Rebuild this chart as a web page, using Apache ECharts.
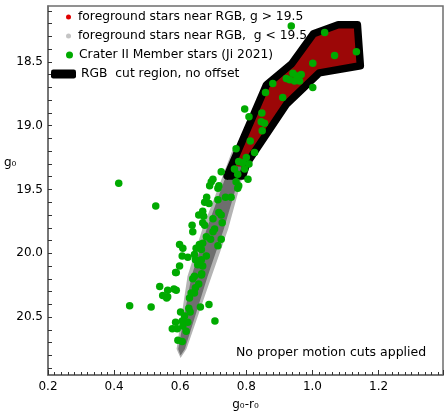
<!DOCTYPE html>
<html>
<head>
<meta charset="utf-8">
<script src="https://cdn.jsdelivr.net/npm/echarts@6/dist/echarts.min.js"></script>
<style>
  html, body { margin: 0; padding: 0; background: #fff; }
  #chart { width: 446px; height: 416px; }
</style>
</head>
<body>
<div id="chart"></div>
<script>
// Crater II CMD, g0 vs g0-r0

const xTickLabels = [0.2, 0.4, 0.6, 0.8, 1.0, 1.2];
const yTickLabels = [18.5, 19.0, 19.5, 20.0, 20.5];
const yTicks = [18.1, 18.2, 18.3, 18.4, 18.5, 18.6, 18.7, 18.8, 18.9, 19.0, 19.1, 19.2, 19.3, 19.4, 19.5,
  19.6, 19.7, 19.8, 19.9, 20.0, 20.1, 20.2, 20.3, 20.4, 20.5, 20.6, 20.7, 20.8, 20.9];

// RGB cut region outline (closed)
const cutRegion = [[0.742, 19.395], [0.789, 19.395], [0.801, 19.297], [0.922, 18.83], [1.021, 18.586],
  [1.145, 18.531], [1.136, 18.21], [1.078, 18.21], [1.003, 18.28], [0.937, 18.516], [0.861, 18.68], [0.742, 19.395]];

// area covered by the red (g > 19.5) foreground stars
const redStarsArea = [[0.754, 19.32], [0.798, 19.32], [0.801, 19.297], [0.922, 18.83], [1.021, 18.586],
  [1.145, 18.531], [1.136, 18.21], [1.078, 18.21], [1.003, 18.28], [0.937, 18.516], [0.861, 18.68]];

// area covered by the grey (g < 19.5) foreground stars: outer envelope and denser core
const grayStarsOuter = [[0.601, 20.82], [0.589, 20.75], [0.622, 20.18], [0.667, 19.81], [0.722, 19.44],
  [0.758, 19.19], [0.825, 19.19], [0.784, 19.44], [0.745, 19.81], [0.695, 20.18], [0.619, 20.75]];
const grayStarsCore = [[0.601, 20.80], [0.594, 20.75], [0.634, 20.18], [0.680, 19.81], [0.732, 19.44],
  [0.770, 19.19], [0.813, 19.19], [0.774, 19.44], [0.732, 19.81], [0.683, 20.18], [0.614, 20.75]];

// Crater II members (Ji 2021): [g0-r0, g0]
const memberStars = [
  [0.414, 19.45], [0.526, 19.63], [0.447, 20.41], [0.512, 20.42], [0.538, 20.26], [0.547, 20.33],
  [0.562, 20.34], [0.562, 20.29], [0.581, 20.28], [0.588, 20.29], [0.559, 20.35], [0.586, 20.15],
  [0.687, 20.40], [0.661, 20.42], [0.705, 20.53], [0.601, 20.46], [0.626, 20.43], [0.630, 20.46],
  [0.613, 20.49], [0.586, 20.54], [0.606, 20.53], [0.623, 20.54], [0.576, 20.59], [0.591, 20.59],
  [0.608, 20.57], [0.618, 20.61], [0.593, 20.68], [0.606, 20.69], [0.638, 20.20], [0.643, 20.18],
  [0.665, 20.16], [0.656, 20.24], [0.646, 20.27], [0.633, 20.31], [0.628, 20.35], [0.643, 20.31],
  [0.598, 20.10], [0.588, 20.15], [0.664, 20.17], [0.653, 20.09], [0.668, 20.10], [0.658, 20.07],
  [0.606, 20.02], [0.623, 20.03], [0.646, 20.05], [0.664, 20.05], [0.679, 20.02], [0.643, 20.01],
  [0.598, 19.93], [0.608, 19.96], [0.648, 19.96], [0.664, 19.97], [0.658, 19.93], [0.668, 19.92],
  [0.714, 19.94], [0.679, 19.87], [0.692, 19.89], [0.724, 19.89], [0.704, 19.81], [0.699, 19.83],
  [0.636, 19.78], [0.638, 19.83], [0.668, 19.76], [0.674, 19.78], [0.699, 19.73], [0.727, 19.76],
  [0.717, 19.68], [0.724, 19.70], [0.668, 19.67], [0.656, 19.70], [0.671, 19.71], [0.680, 19.56],
  [0.674, 19.60], [0.687, 19.61], [0.714, 19.58], [0.737, 19.56], [0.754, 19.56], [0.694, 19.44],
  [0.689, 19.47], [0.714, 19.49], [0.699, 19.42], [0.724, 19.36], [0.774, 19.49], [0.777, 19.47],
  [0.769, 19.44], [0.805, 19.42], [0.774, 19.38], [0.764, 19.34], [0.795, 19.34], [0.808, 19.30],
  [0.777, 19.28], [0.789, 19.29], [0.800, 19.25], [0.769, 19.18], [0.825, 19.21], [0.812, 19.12],
  [0.848, 19.04], [0.845, 18.97], [0.855, 18.98], [0.847, 18.90], [0.795, 18.87], [0.808, 18.93],
  [0.858, 18.74], [0.910, 18.78], [0.880, 18.67], [0.921, 18.63], [0.931, 18.64], [0.953, 18.61],
  [0.966, 18.60], [0.961, 18.65], [0.946, 18.65], [0.941, 18.59], [1.001, 18.70], [1.001, 18.51],
  [1.067, 18.45], [1.133, 18.42], [1.037, 18.27], [0.936, 18.22], [0.717, 19.47]
];

const RED_NAME = 'foreground stars near RGB, g > 19.5';
const GRAY_NAME = 'foreground stars near RGB,  g < 19.5';
const MEMBER_NAME = 'Crater II Member stars (Ji 2021)';
const CUT_NAME = 'RGB  cut region, no offset';

const FONT = 'DejaVu Sans';
const legendText = { fontFamily: FONT, fontSize: 12.3, color: '#000' };

const chart = echarts.init(document.getElementById('chart'));

function polygonRenderer(layers) {
  return function (params, api) {
    return {
      type: 'group',
      children: layers.map(l => ({
        type: 'polygon',
        shape: { points: l.points.map(p => api.coord(p)) },
        style: { fill: l.fill }
      }))
    };
  };
}

chart.setOption({
  animation: false,
  grid: { left: 48, right: 3, top: 6, bottom: 40, show: true, borderColor: '#6e6e6e', borderWidth: 1.5 },
  xAxis: {
    type: 'value', min: 0.2, max: 1.395, interval: 0.2,
    name: 'g₀-r₀', nameLocation: 'middle', nameGap: 24,
    nameTextStyle: { fontFamily: FONT, fontSize: 12, color: '#000' },
    axisLine: { lineStyle: { color: '#6e6e6e', width: 1.5 } },
    axisTick: { inside: true, length: 5, lineStyle: { color: '#333' } },
    minorTick: { show: true, splitNumber: 10, length: 3, lineStyle: { color: '#333' } },
    axisLabel: { customValues: xTickLabels, formatter: v => v.toFixed(1), margin: 6, fontFamily: FONT, fontSize: 12, color: '#000' },
    splitLine: { show: false }
  },
  yAxis: {
    type: 'value', min: 18.0625, max: 20.953, inverse: true,
    axisLine: { lineStyle: { color: '#6e6e6e', width: 1.5 } },
    axisTick: { inside: true, length: 4, customValues: yTicks, lineStyle: { color: '#333' } },
    axisLabel: { customValues: yTickLabels, formatter: v => v.toFixed(1), margin: 5, fontFamily: FONT, fontSize: 12, color: '#000' },
    splitLine: { show: false }
  },
  legend: [
    { left: 66, top: 11, padding: 0, itemWidth: 9, itemHeight: 5, icon: 'circle', textStyle: legendText,
      data: [{ name: RED_NAME, itemStyle: { color: '#e00000' } }] },
    { left: 66, top: 30, padding: 0, itemWidth: 9, itemHeight: 5, icon: 'circle', textStyle: legendText,
      data: [{ name: GRAY_NAME, itemStyle: { color: '#c4c4c4' } }] },
    { left: 66, top: 49, padding: 0, itemWidth: 9, itemHeight: 7, icon: 'circle', textStyle: legendText,
      data: [{ name: MEMBER_NAME, itemStyle: { color: '#00aa00' } }] },
    { left: 51, top: 68, padding: 0, itemWidth: 25, itemHeight: 9, icon: 'roundRect', textStyle: legendText,
      data: [{ name: CUT_NAME, itemStyle: { color: '#000' } }] }
  ],
  graphic: [
    { type: 'text', left: 236, top: 346, style: { text: 'No proper motion cuts applied', font: '12.5px "DejaVu Sans"', fill: '#000' } },
    { type: 'text', left: 4, top: 157, style: { text: 'g₀', font: '12px "DejaVu Sans"', fill: '#000' } }
  ],
  series: [
    {
      name: GRAY_NAME, type: 'custom', z: 1,
      itemStyle: { color: '#c4c4c4' },
      data: [[0.7, 20]],
      renderItem: polygonRenderer([
        { points: grayStarsOuter, fill: '#b4b4b4' },
        { points: grayStarsCore, fill: '#6e6e6e' }
      ])
    },
    {
      name: RED_NAME, type: 'custom', z: 2,
      itemStyle: { color: '#e00000' },
      data: [[0.95, 18.6]],
      renderItem: polygonRenderer([{ points: redStarsArea, fill: '#9c0707' }])
    },
    {
      name: CUT_NAME, type: 'line', z: 3,
      data: cutRegion, symbol: 'none',
      lineStyle: { color: '#000', width: 7.5, join: 'round', cap: 'round' },
      itemStyle: { color: '#000' }
    },
    {
      name: MEMBER_NAME, type: 'scatter', z: 4,
      data: memberStars, symbolSize: 7.5,
      itemStyle: { color: '#00aa00', opacity: 1 }
    }
  ]
});
</script>
</body>
</html>
